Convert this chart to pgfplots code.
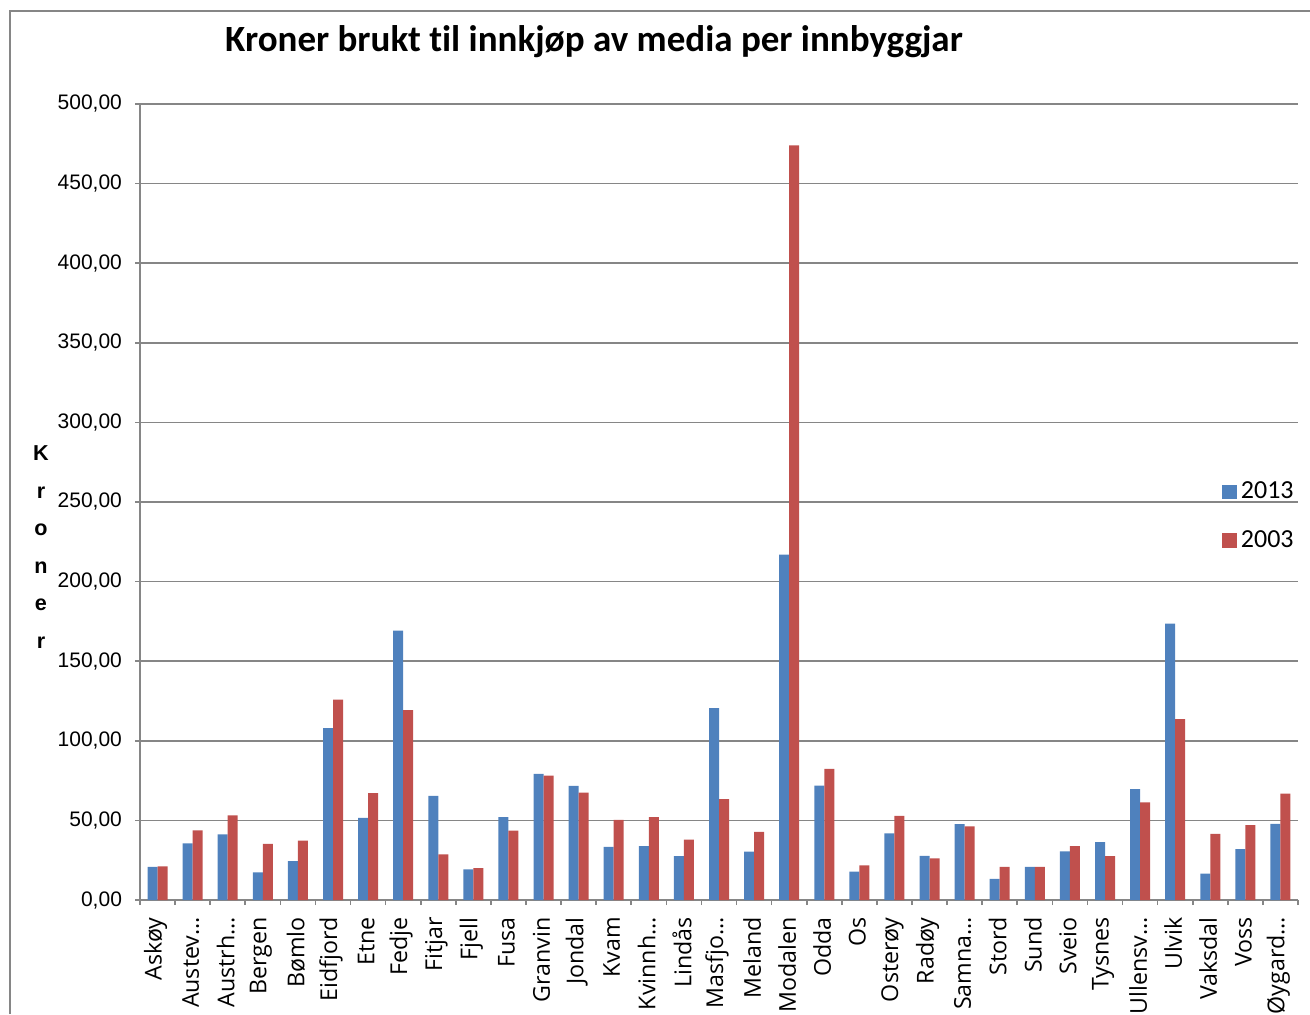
\documentclass[border=0pt]{standalone}
\usepackage{pgfplots}
\pgfplotsset{compat=1.18}
\usepackage{fontspec}
\setmainfont{Liberation Sans}
\newfontfamily\calibri[Ligatures={NoCommon}]{Carlito}
\newfontfamily\opensans{Open Sans}
\definecolor{sblue}{HTML}{4F81BD}
\definecolor{sred}{HTML}{C0504D}
\definecolor{gridgray}{HTML}{868686}
\begin{document}
\begin{tikzpicture}
\path[use as bounding box] (0,0) rectangle (655pt,507pt);
\draw[gridgray, line width=0.8pt] (5pt,0) -- (5pt,501.5pt) -- (655pt,501.5pt);
\node[font=\calibri\bfseries\fontsize{18.5}{22}\selectfont] at (297pt,486pt) {Kroner brukt til innkjøp av media per innbyggjar};
\node[font=\bfseries\fontsize{10.8}{18.8}\selectfont, align=center] at (20.5pt,233.5pt) {K\\r\\o\\n\\e\\r};
\begin{axis}[
  at={(70pt,57pt)}, anchor=south west,
  scale only axis, width=579pt, height=398pt,
  ymin=0, ymax=500, ytick={0,50,...,500},
  xmin=-0.5, xmax=32.5,
  xtick={-0.5,0.5,...,32.5},
  x tick label as interval,
  xticklabels={Askøy,Austev…,Austrh…,Bergen,Bømlo,Eidfjord,Etne,Fedje,Fitjar,Fjell,Fusa,Granvin,Jondal,Kvam,Kvinnh…,Lindås,Masfjo…,Meland,Modalen,Odda,Os,Osterøy,Radøy,Samna…,Stord,Sund,Sveio,Tysnes,Ullensv…,Ulvik,Vaksdal,Voss,Øygard…},
  xticklabel style={yshift=-5pt, xshift=-1pt, rotate=90, anchor=east, font=\opensans\fontsize{11.6}{13}\selectfont, inner sep=1pt},
  yticklabel style={font=\fontsize{10.5}{12}\selectfont, xshift=-3pt},
  /pgf/number format/assume math mode=true,
  yticklabel={\pgfmathprintnumber[fixed, fixed zerofill, precision=2, use comma, 1000 sep={}]{\tick}},
  axis lines*=left,
  axis line style={gridgray, line width=0.8pt},
  tick style={gridgray, line width=0.8pt},
  tick align=outside, major tick length=2.5pt,
  ymajorgrids, grid style={gridgray, line width=0.8pt},
  ybar=0pt, bar width=5pt,
  legend style={at={(1,0.482)}, anchor=east, draw=none, fill=none, inner sep=0pt,
    font=\calibri\fontsize{13}{15}\selectfont, row sep=10.5pt, cells={anchor=west}},
  legend image code/.code={\fill[#1] (0pt,-3.7pt) rectangle (7.4pt,3.7pt);},
  clip=false,
]
\addplot[fill=sblue, draw=none] coordinates {
(0,20.8) (1,35.6) (2,41.3) (3,17.4) (4,24.5) (5,108.0) (6,51.6) (7,169.2) (8,65.4) (9,19.3) (10,52.0)
(11,79.2) (12,71.7) (13,33.3) (14,33.8) (15,27.5) (16,120.5) (17,30.4) (18,217.0) (19,71.9) (20,17.8) (21,41.9)
(22,27.7) (23,47.6) (24,13.2) (25,20.8) (26,30.6) (27,36.3) (28,69.6) (29,173.6) (30,16.6) (31,31.9) (32,47.8)};
\addplot[fill=sred, draw=none] coordinates {
(0,21.2) (1,43.8) (2,53.2) (3,35.2) (4,37.3) (5,125.8) (6,67.1) (7,119.3) (8,28.7) (9,20.1) (10,43.6)
(11,78.2) (12,67.5) (13,50.3) (14,52.0) (15,37.9) (16,63.3) (17,42.8) (18,474.0) (19,82.4) (20,21.8) (21,52.8)
(22,26.2) (23,46.3) (24,20.8) (25,20.8) (26,33.8) (27,27.5) (28,61.4) (29,113.6) (30,41.5) (31,47.0) (32,66.9)};
\legend{2013,2003}
\end{axis}
\end{tikzpicture}
\end{document}
